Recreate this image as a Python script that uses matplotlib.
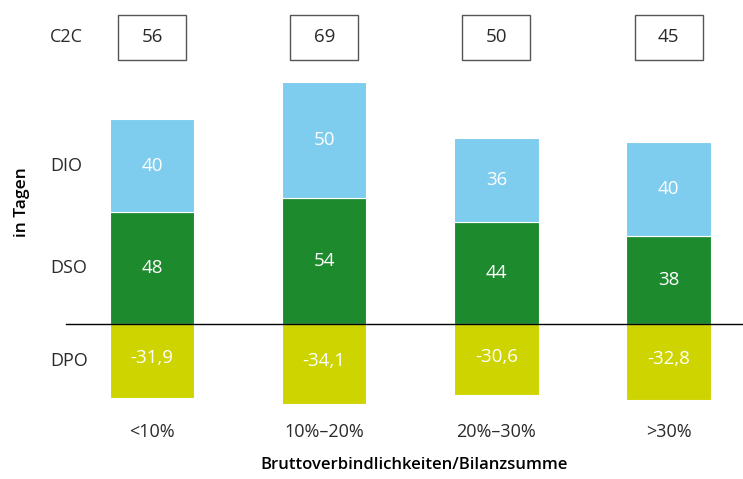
import matplotlib
matplotlib.use("Agg")
import matplotlib.pyplot as plt
from matplotlib.patches import Rectangle
import matplotlib.transforms as mtransforms

plt.rcParams['font.family'] = ['Open Sans', 'DejaVu Sans']

categories = ["<10%", "10%\u201320%", "20%\u201330%", ">30%"]
dso = [48, 54, 44, 38]
dio = [40, 50, 36, 40]
dpo = [-31.9, -34.1, -30.6, -32.8]
c2c = [56, 69, 50, 45]
row_labels = ["C2C", "DIO", "DSO", "DPO"]

col_dso = "#1e8a2e"
col_dio = "#7ecdee"
col_dpo = "#cdd400"
txt = "#2a2a2a"

fig = plt.figure(figsize=(7.43, 4.79), dpi=100)
ax = fig.add_axes([0, 0, 1, 1])
ax.set_xlim(-0.883, 3.432)
ax.set_ylim(-66.5, 139.1)
ax.axis("off")

x = range(len(categories))
w = 0.49
ax.bar(x, dso, width=w, color=col_dso, edgecolor="white", linewidth=0.8)
ax.bar(x, dio, width=w, bottom=dso, color=col_dio, edgecolor="white", linewidth=0.8)
ax.bar(x, dpo, width=w, color=col_dpo, edgecolor="white", linewidth=0.8)

# zero line
ax.plot([-0.5, 3.432], [0, 0], color="black", linewidth=1.0)

fmt = lambda v: f"{v:g}".replace(".", ",")
vfs = 13.5
for i in x:
    ax.text(i, dso[i] / 2, fmt(dso[i]), ha="center", va="center",
            color="white", fontsize=vfs)
    ax.text(i, dso[i] + dio[i] / 2, fmt(dio[i]), ha="center",
            va="center", color="white", fontsize=vfs)
    ax.text(i, dpo[i] / 2 + 1.2, fmt(dpo[i]), ha="center", va="center",
            color="white", fontsize=vfs)

# C2C boxes
box_y = 123.2
box_h = 19.3
box_w = 0.395
for i in x:
    ax.add_patch(Rectangle((i - box_w / 2, box_y - box_h / 2), box_w, box_h,
                           facecolor="white", edgecolor="#555555", linewidth=1.0))
    ax.text(i, box_y, fmt(c2c[i]), ha="center", va="center", color=txt, fontsize=vfs)

# row labels on the left
trans = mtransforms.blended_transform_factory(fig.transFigure, ax.transData)
row_y = [box_y, 68, 24, -16]
for lab, yy in zip(row_labels, row_y):
    ax.text(50 / 743, yy, lab, transform=trans, ha="left", va="center",
            color=txt, fontsize=13)

# category labels
for i, c in zip(x, categories):
    ax.text(i, -46.5, c, ha="center", va="center", color=txt, fontsize=13)

fig.text(414 / 743, 1 - 465 / 479, "Bruttoverbindlichkeiten/Bilanzsumme", ha="center",
         va="center", color="black", fontsize=12, fontweight="semibold")
fig.text(22 / 743, 1 - 202 / 479, "in Tagen", rotation=90, ha="center", va="center",
         color="black", fontsize=12.5, fontweight="semibold")

fig.savefig("out.png", dpi=100)
